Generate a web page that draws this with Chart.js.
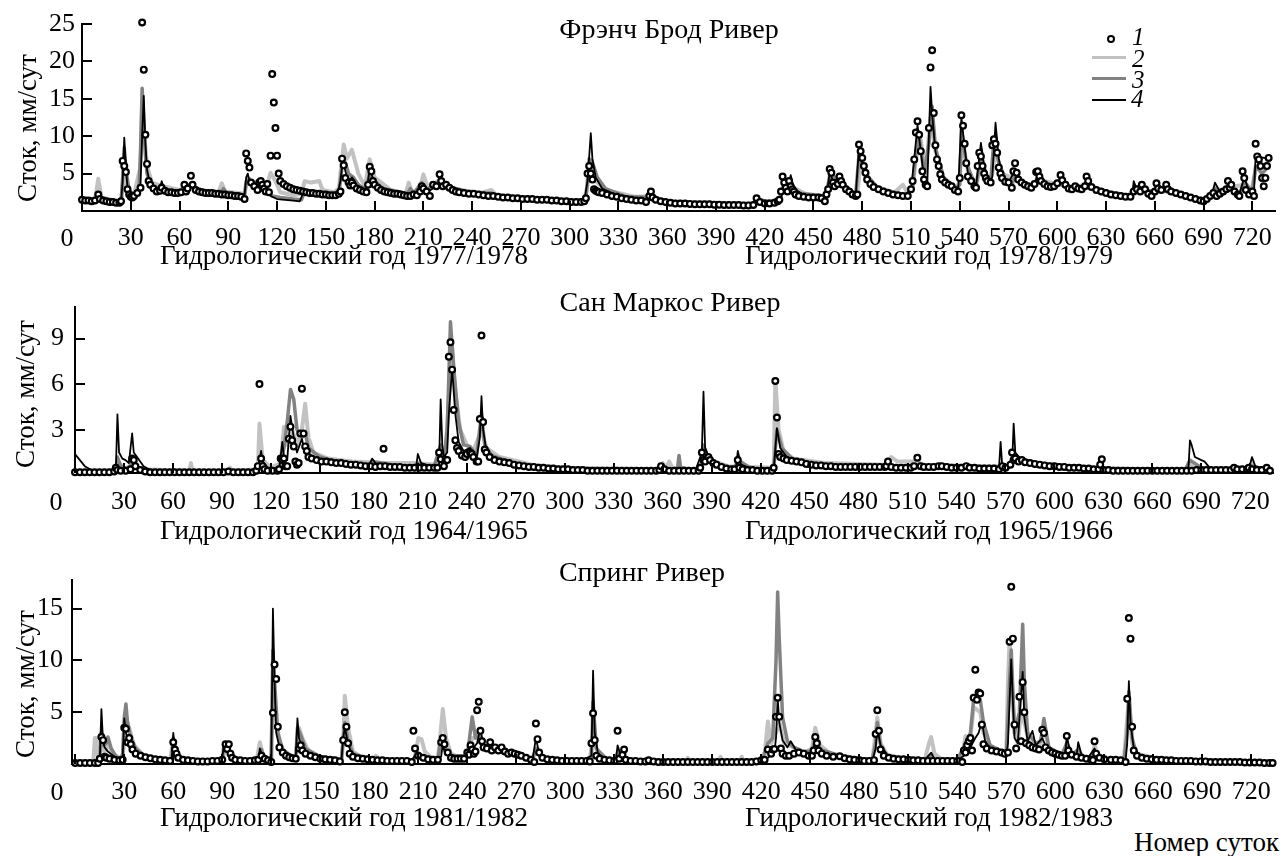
<!DOCTYPE html>
<html lang="ru">
<head>
<meta charset="utf-8">
<title>Сток, мм/сут</title>
<script src="https://cdn.jsdelivr.net/npm/chart.js@4.4.1/dist/chart.umd.min.js"></script>
<style>
  html, body { margin: 0; padding: 0; background: #fff; }
  #page { position: relative; width: 1284px; height: 856px; overflow: hidden; }
  canvas { position: absolute; left: 0; }
  .t {
    position: absolute;
    font-family: "Liberation Serif", "DejaVu Serif", serif;
    font-size: 27px;
    line-height: 1;
    white-space: nowrap;
    color: #000;
  }
  .big { font-size: 28px; }
  .tick { font-size: 26px; }
  .c { transform: translate(-50%, -50%); }
  .l { transform: translateY(-50%); }
  .r { transform: translate(-100%, -50%); }
  .v { transform: translate(-50%, -50%) rotate(-90deg); }
  .i { font-style: italic; font-size: 25px; }
  .sw { position: absolute; height: 0; }
</style>
</head>
<body>
<div id="page">
  <canvas id="frenchChart" width="1284" height="255" style="top:0"></canvas>
  <canvas id="sanMarcosChart" width="1284" height="240" style="top:280px"></canvas>
  <canvas id="springChart" width="1284" height="255" style="top:555px"></canvas>

  <div class="t c big" style="left:669px;top:29px">Фрэнч Брод Ривер</div>
  <div class="t c big" style="left:670px;top:302px">Сан Маркос Ривер</div>
  <div class="t c big" style="left:642px;top:572px">Спринг Ривер</div>

  <div class="t v" style="left:27px;top:128px">Сток, мм/сут</div>
  <div class="t v" style="left:25px;top:394px">Сток, мм/сут</div>
  <div class="t v" style="left:25px;top:684px">Сток, мм/сут</div>

  <div class="t c tick" style="left:67px;top:238px">0</div>
  <div class="t c tick" style="left:56px;top:502px">0</div>
  <div class="t c tick" style="left:57px;top:792px">0</div>

  <div class="t l" style="left:160px;top:255px">Гидрологический год 1977/1978</div>
  <div class="t l" style="left:745px;top:255px">Гидрологический год 1978/1979</div>
  <div class="t l" style="left:160px;top:530px">Гидрологический год 1964/1965</div>
  <div class="t l" style="left:745px;top:530px">Гидрологический год 1965/1966</div>
  <div class="t l" style="left:160px;top:817px">Гидрологический год 1981/1982</div>
  <div class="t l" style="left:745px;top:817px">Гидрологический год 1982/1983</div>
  <div class="t r" style="left:1279px;top:842px">Номер суток</div>

  <!-- legend -->
  <div style="position:absolute;left:1107px;top:35px;width:4px;height:4px;border:2px solid #000;border-radius:50%;background:#fff"></div>
  <div class="sw" style="left:1092px;top:56px;width:34px;border-top:3.5px solid #c2c2c2"></div>
  <div class="sw" style="left:1092px;top:77px;width:34px;border-top:3.5px solid #828282"></div>
  <div class="sw" style="left:1092px;top:99px;width:34px;border-top:2px solid #000"></div>
  <div class="t l i" style="left:1132px;top:36px">1</div>
  <div class="t l i" style="left:1132px;top:58px">2</div>
  <div class="t l i" style="left:1132px;top:79px">3</div>
  <div class="t l i" style="left:1131px;top:98px">4</div>
</div>
<script>
// day numbers along the bottom of every panel
const dayTicks = [0, 30, 60, 90, 120, 150, 180, 210, 240, 270, 300, 330, 360,
  390, 420, 450, 480, 510, 540, 570, 600, 630, 660, 690, 720];

const frenchTicks = [5, 10, 15, 20, 25];
const sanMarcosTicks = [3, 6, 9];
const springTicks = [5, 10, 15];

// French Broad River, 1977-1979: [day, runoff mm/day]
const frenchObs = [[0,1.5],[2,1.4],[4,1.4],[6,1.3],[8,1.4],[10,2.2],[11,1.6],[13,1.4],[15,1.3],[17,1.2],[19,1.2],[21,1.1],[23,1.1],[24,1.3],[25,6.7],[26,6.0],[27,5.2],[28,2.9],[29,2.2],[30,1.9],[31,1.8],[32,2.0],[34,2.4],[36,3.1],[37,25.2],[38,18.9],[39,10.2],[40,6.3],[41,4.0],[42,3.5],[44,3.0],[46,2.6],[48,2.7],[49,3.1],[51,2.7],[53,2.5],[55,2.5],[57,2.4],[59,2.4],[61,2.5],[63,3.5],[64,2.6],[65,3.0],[67,4.7],[68,3.5],[70,2.8],[72,2.6],[74,2.5],[76,2.4],[78,2.4],[80,2.4],[82,2.3],[84,2.3],[86,2.2],[88,2.2],[90,2.1],[92,2.1],[94,2.0],[96,2.0],[98,1.9],[100,1.6],[101,7.7],[102,6.7],[103,5.8],[104,3.8],[106,3.3],[108,2.8],[109,3.8],[110,4.0],[111,3.5],[112,3.0],[113,2.6],[114,3.6],[115,2.5],[116,7.4],[117,18.3],[118,14.5],[119,11.1],[120,7.4],[121,5.0],[122,4.0],[124,3.6],[126,3.3],[128,3.1],[130,2.9],[132,2.8],[134,2.7],[136,2.6],[138,2.5],[140,2.4],[142,2.4],[144,2.3],[146,2.3],[148,2.2],[150,2.2],[152,2.1],[154,2.1],[156,2.1],[158,2.3],[159,2.6],[160,7.0],[161,6.1],[162,4.4],[164,3.8],[165,3.4],[166,3.8],[167,3.4],[169,3.0],[171,2.8],[173,2.6],[175,2.5],[176,3.5],[177,5.9],[178,5.3],[179,4.0],[180,3.5],[182,3.1],[184,2.8],[186,2.6],[188,2.5],[190,2.4],[192,2.3],[194,2.3],[196,2.2],[198,2.1],[200,2.0],[202,2.0],[204,2.2],[206,2.1],[208,2.6],[209,3.3],[210,3.0],[212,2.6],[214,2.0],[216,3.5],[218,3.3],[220,4.9],[221,4.0],[222,3.3],[224,3.5],[226,3.1],[228,2.8],[230,2.6],[232,2.5],[235,2.4],[238,2.3],[241,2.3],[244,2.2],[247,2.1],[250,2.0],[253,2.0],[256,1.9],[259,1.8],[262,1.8],[265,1.7],[268,1.7],[271,1.6],[274,1.6],[277,1.6],[280,1.5],[283,1.5],[286,1.5],[289,1.4],[292,1.4],[295,1.3],[298,1.3],[301,1.2],[304,1.2],[307,1.2],[309,1.3],[310,1.7],[311,5.0],[312,6.0],[313,5.0],[314,4.2],[315,2.9],[316,2.7],[317,2.6],[318,2.5],[320,2.4],[323,2.2],[326,2.0],[329,1.9],[332,1.7],[335,1.6],[338,1.5],[341,1.4],[344,1.4],[347,1.2],[349,2.0],[350,2.6],[351,1.8],[353,1.5],[356,1.3],[359,1.2],[362,1.1],[365,1.0],[368,1.0],[371,1.0],[374,0.95],[377,0.9],[380,0.9],[383,0.9],[386,0.9],[389,0.85],[392,0.85],[395,0.8],[398,0.8],[401,0.8],[404,0.8],[407,0.75],[410,0.75],[413,0.8],[415,1.7],[417,1.2],[420,1.0],[423,1.0],[426,1.1],[428,1.3],[429,1.5],[430,2.6],[431,4.6],[432,3.8],[433,3.1],[434,2.6],[435,4.0],[436,3.3],[437,2.9],[438,2.6],[439,2.2],[441,2.0],[444,1.9],[447,1.8],[450,1.8],[453,1.8],[455,1.7],[457,1.3],[458,2.2],[459,2.9],[460,5.6],[461,5.1],[462,3.8],[463,3.3],[465,3.6],[466,4.6],[467,4.0],[468,3.5],[470,2.9],[472,2.6],[474,2.2],[476,2.0],[477,2.2],[478,8.9],[479,8.0],[480,7.1],[481,6.0],[482,5.1],[483,4.2],[485,3.6],[487,3.2],[490,2.9],[493,2.6],[496,2.4],[499,2.2],[502,2.1],[505,2.0],[508,2.0],[510,2.9],[511,4.0],[512,6.9],[513,10.5],[514,12.0],[515,10.2],[516,8.0],[517,5.3],[518,4.2],[519,3.5],[520,3.3],[521,11.1],[522,19.2],[523,21.5],[524,13.1],[525,8.8],[526,6.9],[527,6.0],[528,4.9],[529,4.2],[531,3.8],[533,3.5],[535,3.3],[537,2.8],[539,2.6],[540,4.4],[541,12.8],[542,11.4],[543,9.0],[544,6.4],[545,4.6],[547,4.0],[549,3.3],[550,3.1],[551,6.0],[552,7.8],[553,7.3],[554,6.0],[555,5.0],[556,4.4],[557,4.0],[559,3.8],[560,8.8],[561,9.6],[562,9.0],[563,7.8],[564,5.8],[565,5.0],[566,4.4],[568,3.9],[570,3.8],[572,3.1],[573,5.3],[574,6.4],[575,5.1],[576,4.2],[578,3.8],[580,3.5],[582,3.3],[584,3.1],[586,3.6],[587,5.2],[588,5.3],[589,4.6],[590,4.0],[592,3.6],[594,3.3],[596,3.2],[598,3.3],[600,3.7],[602,4.8],[603,4.1],[605,3.5],[607,3.0],[609,2.9],[611,3.3],[613,3.0],[615,2.9],[617,3.3],[618,4.6],[619,4.0],[621,3.2],[624,2.8],[627,2.6],[630,2.4],[633,2.2],[636,2.1],[639,2.0],[642,1.9],[645,1.9],[647,2.6],[649,2.9],[651,2.6],[652,3.5],[654,2.9],[656,2.3],[658,2.0],[660,2.6],[661,3.7],[662,3.0],[664,2.8],[667,3.5],[668,2.9],[670,2.6],[673,2.4],[676,2.2],[679,2.0],[682,1.8],[685,1.6],[688,1.4],[690,1.3],[692,1.6],[694,2.0],[696,2.4],[698,2.0],[700,2.3],[702,2.6],[704,2.9],[705,4.0],[706,3.1],[707,3.5],[709,2.6],[711,2.2],[712,2.0],[714,5.3],[715,4.4],[716,2.8],[718,2.2],[720,2.6],[721,2.0],[722,9.0],[723,7.3],[724,6.9],[725,6.0],[726,4.4],[727,3.3],[728,4.4],[729,6.0],[730,7.1]];

const frenchSim2 = [[0,1.6],[8,1.5],[10,4.3],[12,1.8],[24,1.2],[26,5.0],[28,3.0],[32,2.1],[36,6.0],[37,14.0],[38,11.0],[40,6.0],[43,3.8],[50,3.3],[60,2.8],[66,3.5],[72,2.8],[84,2.5],[86,3.7],[88,2.6],[100,2.3],[102,4.5],[105,3.2],[110,3.0],[113,2.8],[116,5.1],[119,4.0],[122,2.5],[130,2.1],[135,2.3],[137,4.0],[141,3.8],[146,4.0],[148,2.8],[155,2.5],[158,3.0],[161,8.9],[163,7.0],[166,8.2],[170,5.0],[174,3.3],[177,6.9],[180,4.5],[190,2.8],[199,2.3],[201,3.8],[203,2.5],[208,3.0],[210,4.9],[213,3.0],[220,4.2],[228,3.0],[245,2.4],[252,2.8],[255,2.1],[280,1.7],[300,1.4],[309,1.4],[311,3.5],[313,6.0],[316,4.0],[322,2.8],[340,1.9],[350,2.0],[360,1.3],[400,1.0],[413,1.0],[415,1.5],[420,1.3],[429,1.4],[432,3.6],[437,3.2],[445,2.3],[457,2.0],[460,4.2],[467,3.9],[473,2.6],[477,2.3],[479,6.5],[485,3.5],[500,2.5],[505,3.5],[508,2.4],[511,3.0],[513,7.0],[516,9.5],[519,5.0],[522,12.5],[525,8.0],[530,4.5],[538,3.0],[540,4.0],[541,9.0],[545,5.5],[550,3.5],[553,6.0],[558,4.0],[560,5.0],[562,8.0],[566,5.0],[575,4.2],[583,3.3],[588,4.2],[600,3.6],[610,3.1],[618,3.6],[630,2.6],[644,2.1],[647,3.0],[655,2.4],[662,2.8],[680,2.0],[690,1.6],[694,2.0],[697,3.2],[702,2.5],[707,3.2],[715,3.5],[719,2.4],[722,5.5],[730,6.5]];

const frenchSim3 = [[0,1.5],[9,1.3],[10,2.2],[12,1.4],[24,1.1],[25,4.5],[26,8.5],[27,5.5],[29,2.8],[32,2.0],[35,2.4],[36,8.0],[37,16.4],[38,12.0],[39,7.5],[40,5.0],[42,3.6],[46,2.9],[49,3.6],[52,2.7],[60,2.6],[64,3.1],[67,3.6],[72,2.7],[85,2.3],[87,3.0],[89,2.3],[100,2.1],[101,4.0],[103,4.3],[106,3.2],[110,3.6],[113,3.0],[117,2.0],[122,1.8],[130,1.6],[135,1.5],[137,2.6],[145,2.4],[158,2.2],[160,6.0],[162,6.5],[164,5.0],[167,4.5],[170,3.5],[175,2.8],[177,5.2],[179,4.2],[185,3.0],[200,2.3],[202,3.0],[204,2.3],[209,3.8],[212,2.8],[220,4.0],[226,3.2],[240,2.4],[252,2.4],[254,2.0],[280,1.6],[300,1.3],[310,1.5],[312,7.0],[314,6.5],[317,4.5],[322,3.0],[335,1.9],[350,1.8],[360,1.2],[400,0.9],[414,0.9],[416,1.5],[425,1.2],[429,1.4],[432,3.8],[435,3.8],[440,2.4],[455,2.0],[458,2.0],[460,4.8],[466,4.3],[472,2.8],[476,2.3],[478,7.5],[482,5.0],[490,3.0],[500,2.3],[508,2.1],[511,3.5],[513,8.0],[515,10.0],[518,5.0],[521,9.0],[523,14.0],[525,8.5],[530,4.5],[537,2.9],[540,3.5],[541,11.0],[544,6.5],[548,4.2],[550,3.3],[553,7.5],[556,5.0],[559,3.9],[561,9.5],[564,6.5],[568,4.2],[572,3.3],[574,5.0],[580,3.6],[585,3.2],[588,4.5],[594,3.3],[599,3.2],[602,3.9],[610,3.0],[616,3.0],[618,3.9],[625,2.7],[645,2.0],[648,3.3],[653,3.0],[660,2.5],[662,3.0],[668,2.8],[690,1.4],[694,1.9],[697,3.0],[702,2.4],[706,3.2],[712,2.2],[715,4.0],[720,2.5],[722,6.0],[726,5.0],[730,6.0]];

const frenchSim4 = [[0,1.4],[9,1.3],[10,2.4],[11,1.4],[24,1.1],[25,4.0],[26,9.8],[27,6.0],[28,3.0],[30,2.2],[33,1.9],[35,2.3],[36,3.5],[37,10.0],[38,15.4],[39,9.0],[40,5.5],[42,3.5],[45,2.8],[48,2.6],[49,4.0],[50,3.2],[53,2.6],[60,2.5],[64,3.0],[67,3.4],[70,2.8],[80,2.4],[90,2.2],[100,2.1],[101,4.5],[102,5.0],[103,4.0],[105,3.3],[110,3.5],[112,3.3],[113,3.0],[116,2.0],[120,1.6],[130,1.4],[134,1.3],[136,2.4],[140,2.4],[150,2.2],[157,2.1],[159,4.0],[160,6.0],[161,6.2],[163,4.5],[165,4.2],[166,4.5],[168,3.8],[170,3.0],[175,2.6],[177,5.6],[178,5.0],[180,3.6],[185,2.8],[195,2.3],[205,2.1],[209,3.0],[212,2.5],[216,3.0],[220,3.8],[225,3.2],[240,2.3],[260,1.8],[280,1.5],[300,1.2],[309,1.3],[311,4.0],[313,10.4],[314,7.0],[316,4.5],[320,3.0],[330,2.0],[345,1.4],[350,2.0],[355,1.3],[370,1.0],[390,0.9],[410,0.8],[415,1.4],[420,1.0],[430,1.5],[432,4.3],[434,3.0],[436,4.8],[438,3.0],[445,2.0],[455,1.8],[458,2.0],[460,5.2],[462,4.0],[466,4.4],[470,3.0],[476,2.1],[478,8.5],[480,6.5],[483,4.0],[490,2.9],[505,2.0],[510,2.8],[512,7.0],[514,11.5],[516,8.0],[518,4.5],[520,3.5],[522,16.6],[523,13.0],[525,8.0],[528,5.0],[532,3.8],[539,2.7],[541,12.5],[543,8.5],[545,5.0],[550,3.3],[553,9.1],[555,6.0],[558,4.0],[560,4.5],[562,11.8],[564,7.0],[566,4.8],[570,3.8],[574,5.5],[578,4.0],[585,3.2],[588,4.8],[592,3.6],[599,3.3],[602,4.0],[610,3.0],[616,3.1],[618,4.2],[625,2.7],[640,2.0],[646,1.9],[647,4.0],[649,2.8],[653,3.2],[658,2.2],[662,3.3],[667,3.0],[680,1.9],[690,1.3],[695,2.0],[697,3.8],[700,2.6],[704,2.8],[706,3.5],[712,2.2],[715,4.5],[718,2.6],[721,2.5],[722,7.3],[730,7.0]];

// San Marcos River, 1964-1966
const sanMarcosObs = [[0,0.2],[3,0.2],[6,0.2],[9,0.2],[12,0.2],[15,0.2],[18,0.2],[21,0.2],[24,0.25],[25,0.5],[26,0.35],[28,0.3],[31,0.3],[34,0.4],[35,1.1],[36,1.0],[37,0.6],[40,0.35],[43,0.25],[46,0.2],[49,0.2],[52,0.2],[55,0.2],[58,0.2],[61,0.2],[64,0.2],[67,0.2],[70,0.2],[73,0.2],[76,0.2],[79,0.2],[82,0.2],[85,0.2],[88,0.2],[91,0.2],[94,0.25],[97,0.2],[100,0.2],[103,0.2],[106,0.2],[109,0.2],[111,0.3],[112,0.6],[113,6.0],[114,1.1],[115,0.6],[116,0.4],[118,0.3],[121,0.3],[124,0.3],[125,0.4],[126,1.1],[127,1.0],[128,1.1],[129,0.6],[130,0.6],[131,2.4],[132,3.2],[133,2.3],[134,1.9],[135,0.9],[136,0.7],[137,0.8],[138,2.75],[139,5.7],[140,2.75],[141,1.9],[142,1.6],[143,1.2],[145,1.1],[148,1.0],[151,0.9],[154,0.9],[157,0.85],[160,0.8],[163,0.8],[166,0.75],[169,0.7],[172,0.7],[175,0.65],[178,0.6],[181,0.6],[184,0.55],[187,0.6],[189,1.75],[190,0.6],[193,0.55],[196,0.55],[199,0.55],[202,0.5],[205,0.5],[208,0.5],[211,0.5],[214,0.5],[217,0.5],[220,0.5],[222,0.5],[223,1.5],[224,1.05],[226,0.6],[227,1.0],[228,1.0],[229,7.8],[230,8.75],[231,6.95],[232,4.3],[233,2.3],[234,1.8],[235,1.6],[237,1.3],[239,1.2],[240,1.4],[242,1.5],[243,1.4],[244,1.2],[246,0.9],[247,0.9],[248,3.7],[249,9.2],[250,3.5],[251,1.7],[252,1.5],[254,1.2],[257,1.0],[260,0.9],[263,0.85],[266,0.8],[269,0.7],[272,0.65],[275,0.6],[278,0.55],[281,0.55],[284,0.5],[287,0.5],[290,0.45],[293,0.45],[296,0.4],[299,0.4],[302,0.4],[305,0.35],[308,0.35],[311,0.35],[314,0.3],[317,0.3],[320,0.3],[323,0.3],[326,0.3],[329,0.3],[332,0.3],[335,0.3],[338,0.3],[341,0.3],[344,0.3],[347,0.3],[350,0.3],[353,0.3],[356,0.3],[358,0.35],[359,0.6],[361,0.4],[364,0.3],[367,0.3],[370,0.3],[373,0.3],[376,0.3],[379,0.3],[382,0.3],[383,0.5],[384,1.5],[385,1.0],[386,0.9],[388,1.2],[389,1.0],[391,0.8],[393,0.7],[396,0.55],[399,0.45],[402,0.4],[404,0.4],[406,1.0],[407,0.5],[409,0.4],[412,0.35],[415,0.35],[418,0.3],[421,0.3],[424,0.3],[427,0.3],[428,0.5],[429,6.2],[430,3.8],[431,1.4],[432,1.2],[434,1.1],[436,1.0],[439,0.95],[442,0.9],[445,0.85],[448,0.75],[451,0.7],[454,0.65],[457,0.65],[460,0.6],[463,0.6],[466,0.55],[469,0.55],[472,0.55],[475,0.55],[478,0.55],[481,0.55],[484,0.55],[487,0.55],[490,0.55],[493,0.55],[496,0.55],[497,0.6],[498,0.9],[500,0.55],[503,0.5],[506,0.5],[509,0.5],[512,0.5],[514,0.6],[516,1.15],[518,0.6],[520,0.55],[523,0.55],[526,0.55],[529,0.6],[531,0.6],[534,0.55],[537,0.5],[540,0.5],[543,0.5],[546,0.6],[548,0.5],[551,0.5],[554,0.45],[557,0.45],[560,0.45],[563,0.45],[566,0.4],[568,0.6],[570,0.5],[573,0.7],[574,1.5],[575,1.0],[576,1.1],[578,0.9],[580,1.0],[582,0.85],[585,0.8],[588,0.75],[591,0.7],[594,0.65],[597,0.6],[600,0.6],[603,0.55],[606,0.55],[609,0.5],[612,0.5],[615,0.5],[618,0.45],[621,0.45],[624,0.4],[627,0.4],[628,0.7],[629,1.05],[630,0.35],[633,0.35],[636,0.3],[639,0.3],[642,0.3],[645,0.3],[648,0.3],[651,0.3],[654,0.3],[657,0.3],[660,0.3],[663,0.3],[666,0.3],[669,0.3],[672,0.3],[675,0.3],[678,0.3],[681,0.3],[684,0.3],[687,0.35],[690,0.35],[693,0.35],[696,0.35],[699,0.35],[702,0.35],[705,0.35],[708,0.35],[710,0.5],[712,0.4],[715,0.4],[718,0.4],[719,0.5],[721,0.4],[724,0.35],[727,0.35],[730,0.5],[732,0.3]];

const sanMarcosSim2 = [[0,0.3],[25,0.3],[27,0.8],[30,0.4],[35,0.7],[40,0.4],[70,0.3],[71,0.8],[72,0.3],[94,0.3],[95,0.5],[96,0.3],[112,0.4],[113,3.4],[115,1.0],[120,0.5],[126,0.8],[128,3.2],[130,2.0],[133,3.0],[136,2.0],[139,3.0],[141,4.7],[143,2.5],[146,1.5],[155,1.1],[170,0.9],[190,0.8],[210,0.8],[222,0.7],[224,1.6],[227,1.5],[229,5.0],[231,8.5],[233,5.5],[236,3.0],[240,2.0],[244,1.6],[249,3.0],[252,1.8],[260,1.2],[280,0.7],[300,0.5],[358,0.4],[360,0.8],[362,0.5],[364,0.9],[366,0.5],[380,0.4],[383,0.4],[385,1.3],[390,1.0],[400,0.6],[428,0.5],[429,6.3],[431,3.0],[434,1.6],[440,1.1],[460,0.8],[497,0.7],[500,1.2],[504,0.9],[515,0.9],[520,0.7],[560,0.6],[572,0.6],[575,1.2],[590,0.8],[620,0.5],[650,0.35],[680,0.35],[683,0.8],[686,0.4],[719,0.4],[721,0.8],[723,0.4],[733,0.35]];

const sanMarcosSim3 = [[0,0.3],[25,0.25],[26,1.2],[28,0.6],[33,0.4],[35,0.9],[38,0.5],[50,0.25],[112,0.3],[114,1.2],[116,0.5],[125,0.4],[128,1.8],[130,3.5],[132,5.65],[134,5.0],[136,3.0],[139,2.5],[141,2.8],[143,1.8],[150,1.2],[160,0.9],[180,0.7],[182,0.9],[200,0.6],[208,0.6],[210,0.8],[212,0.6],[220,0.6],[224,2.0],[226,1.0],[228,3.0],[230,10.1],[232,7.0],[235,3.5],[238,2.0],[242,1.9],[246,1.3],[249,4.0],[251,2.0],[255,1.3],[270,0.75],[300,0.45],[340,0.35],[364,0.4],[369,0.4],[370,1.3],[371,0.5],[380,0.35],[383,0.35],[385,2.0],[388,1.0],[400,0.5],[404,0.45],[406,1.0],[415,0.4],[428,0.4],[430,3.0],[433,1.8],[440,1.0],[460,0.7],[500,0.6],[560,0.5],[572,0.5],[575,1.5],[580,0.9],[620,0.5],[680,0.35],[683,1.0],[690,0.5],[700,0.35],[719,0.35],[721,0.6],[733,0.3]];

const sanMarcosSim4 = [[0,1.4],[3,1.0],[6,0.6],[10,0.35],[14,0.25],[25,0.25],[26,4.0],[27,1.5],[29,1.1],[31,1.0],[33,0.8],[35,2.75],[36,1.5],[38,1.2],[42,0.6],[46,0.35],[50,0.25],[112,0.3],[114,1.6],[115,0.9],[118,0.5],[122,0.3],[125,0.35],[127,2.2],[128,1.2],[130,1.0],[132,3.9],[134,2.5],[136,1.5],[139,2.4],[140,1.9],[143,1.3],[150,1.0],[160,0.85],[170,0.75],[180,0.65],[182,1.1],[184,0.8],[190,0.7],[200,0.6],[209,0.55],[210,1.4],[212,0.8],[220,0.55],[223,0.6],[224,5.0],[225,2.0],[226,1.2],[228,1.5],[229,4.0],[231,7.0],[233,4.0],[235,2.2],[238,1.6],[242,1.8],[246,1.1],[248,2.5],[249,5.2],[250,3.0],[252,1.6],[256,1.1],[270,0.7],[300,0.45],[340,0.35],[380,0.3],[384,1.5],[385,5.5],[386,1.8],[388,1.3],[392,0.8],[400,0.5],[405,0.5],[406,1.6],[408,0.7],[415,0.4],[428,0.35],[430,3.1],[432,1.8],[436,1.2],[445,0.9],[460,0.65],[500,0.55],[530,0.5],[566,0.45],[567,2.2],[568,0.6],[570,0.5],[574,0.6],[575,3.4],[576,1.5],[580,1.0],[590,0.7],[610,0.5],[630,0.4],[660,0.35],[682,0.35],[683,2.3],[684,2.0],[686,1.2],[690,1.0],[692,0.9],[695,0.5],[700,0.4],[719,0.4],[721,1.2],[723,0.6],[733,0.3]];

// Spring River, 1981-1983
const springObs = [[0,0.1],[3,0.1],[6,0.1],[9,0.1],[12,0.1],[14,0.1],[15,0.5],[16,2.6],[17,2.3],[18,0.7],[19,0.6],[21,0.5],[24,0.4],[27,0.35],[29,0.4],[30,3.5],[31,3.4],[32,2.1],[33,2.5],[34,1.9],[35,1.4],[37,1.0],[40,0.8],[43,0.65],[46,0.55],[49,0.45],[52,0.4],[55,0.35],[58,0.3],[60,2.1],[61,1.4],[62,1.0],[63,0.6],[66,0.4],[69,0.35],[72,0.3],[75,0.25],[78,0.25],[81,0.25],[84,0.3],[87,0.3],[90,0.4],[92,1.9],[93,1.45],[94,1.9],[95,1.0],[96,0.6],[98,0.4],[101,0.35],[104,0.3],[107,0.3],[110,0.35],[112,0.4],[114,0.8],[116,0.5],[118,0.35],[120,0.2],[121,4.95],[122,9.6],[123,8.2],[124,3.6],[125,1.6],[127,1.1],[129,0.8],[131,0.65],[133,0.55],[135,0.5],[137,1.5],[138,1.8],[139,1.3],[141,1.0],[144,0.8],[147,0.65],[150,0.5],[153,0.45],[156,0.4],[159,0.35],[162,0.25],[164,2.3],[165,5.0],[166,3.6],[167,2.0],[168,1.0],[170,0.7],[173,0.55],[176,0.5],[179,0.45],[182,0.4],[185,0.35],[188,0.35],[191,0.3],[194,0.3],[197,0.3],[200,0.3],[203,0.3],[206,0.2],[207,3.2],[208,1.5],[210,0.8],[213,0.6],[216,0.45],[219,0.4],[222,0.4],[224,2.1],[225,2.5],[226,1.9],[228,1.1],[230,0.6],[232,0.5],[234,0.5],[236,0.5],[238,0.5],[240,1.1],[241,0.9],[242,1.8],[243,1.4],[244,1.0],[245,1.2],[246,5.2],[247,6.0],[248,3.2],[249,2.2],[250,1.6],[252,1.5],[254,2.1],[255,1.3],[257,1.6],[259,1.3],[261,1.6],[263,1.2],[265,1.0],[267,1.1],[269,1.0],[271,0.9],[273,0.8],[276,0.6],[279,0.4],[281,0.2],[282,3.9],[283,2.4],[284,1.1],[286,0.6],[289,0.45],[292,0.4],[295,0.35],[298,0.3],[301,0.3],[304,0.3],[307,0.3],[310,0.3],[313,0.3],[315,0.25],[316,2.0],[317,4.9],[318,2.3],[319,0.8],[321,0.5],[324,0.4],[327,0.35],[330,0.3],[332,3.2],[333,0.5],[335,0.9],[336,1.4],[337,0.4],[340,0.3],[343,0.3],[346,0.25],[349,0.25],[351,0.35],[354,0.25],[357,0.2],[360,0.2],[363,0.2],[366,0.2],[369,0.2],[372,0.2],[375,0.2],[378,0.2],[381,0.2],[384,0.2],[387,0.2],[390,0.2],[393,0.2],[396,0.2],[399,0.2],[402,0.2],[405,0.2],[408,0.2],[411,0.2],[414,0.2],[417,0.25],[420,0.35],[422,0.4],[424,1.4],[426,1.0],[427,1.4],[428,1.45],[429,4.55],[430,6.4],[431,4.55],[432,1.5],[433,1.0],[435,0.8],[437,0.8],[440,1.0],[443,1.1],[446,1.0],[449,0.8],[451,0.8],[452,1.3],[453,2.6],[454,2.0],[455,1.3],[457,1.0],[460,0.8],[464,0.7],[468,0.75],[471,0.55],[474,0.45],[477,0.4],[480,0.35],[483,0.3],[486,0.3],[489,0.37],[490,2.9],[491,5.2],[492,3.2],[493,1.4],[495,0.8],[498,0.6],[501,0.5],[504,0.45],[507,0.45],[510,0.4],[513,0.35],[516,0.35],[519,0.3],[522,0.3],[525,0.3],[528,0.3],[531,0.3],[534,0.3],[537,0.3],[540,0.3],[543,0.2],[544,1.3],[545,1.1],[546,1.8],[547,2.2],[548,2.5],[549,1.3],[550,6.4],[551,9.1],[552,6.2],[553,6.9],[554,6.8],[555,3.8],[556,1.9],[558,1.5],[561,1.3],[564,1.2],[567,1.1],[569,1.0],[571,1.1],[572,11.8],[573,17.1],[574,12.1],[575,3.8],[576,1.5],[578,6.5],[579,2.2],[580,7.9],[581,5.0],[582,2.0],[584,1.8],[586,1.6],[588,1.5],[590,1.4],[592,3.3],[593,3.0],[594,1.6],[596,1.3],[598,1.1],[600,1.0],[602,0.9],[604,0.8],[606,0.8],[607,2.7],[608,1.3],[610,0.9],[613,0.7],[616,0.6],[619,0.5],[622,0.4],[623,0.37],[624,2.2],[625,1.0],[627,0.6],[630,0.45],[634,0.4],[637,0.4],[640,0.35],[643,0.2],[644,6.3],[645,14.1],[646,12.1],[647,3.6],[648,1.3],[650,0.8],[653,0.6],[656,0.5],[659,0.45],[662,0.4],[665,0.4],[668,0.35],[671,0.35],[674,0.3],[677,0.3],[680,0.3],[683,0.3],[686,0.25],[689,0.25],[692,0.25],[695,0.2],[698,0.2],[701,0.2],[704,0.2],[707,0.2],[710,0.2],[713,0.2],[716,0.15],[719,0.15],[722,0.15],[725,0.15],[728,0.1],[731,0.1],[733,0.1]];

const springSim2 = [[0,0.1],[11,0.1],[12,2.5],[13,2.5],[14,0.5],[15,0.6],[16,3.0],[17,1.5],[18,1.2],[20,2.0],[23,1.0],[27,0.6],[29,0.6],[30,2.5],[31,4.5],[33,3.5],[36,1.8],[42,0.8],[50,0.45],[58,0.35],[60,2.2],[62,1.0],[66,0.4],[90,0.35],[92,1.6],[95,1.2],[98,0.4],[111,0.35],[113,2.1],[115,0.8],[118,0.35],[120,0.4],[121,9.0],[123,4.0],[126,1.5],[130,0.7],[135,0.6],[136,2.0],[137,3.5],[139,2.5],[143,1.2],[150,0.6],[163,0.4],[164,2.0],[165,6.6],[167,3.5],[170,1.2],[176,0.6],[183,0.45],[184,0.8],[186,0.45],[206,0.35],[208,0.6],[210,2.5],[212,2.4],[214,1.2],[218,0.6],[222,0.6],[223,2.0],[225,5.3],[227,2.5],[230,1.0],[236,0.6],[240,0.8],[243,2.5],[247,2.5],[250,1.5],[260,1.2],[270,0.9],[280,0.5],[283,1.5],[286,0.6],[290,0.45],[315,0.35],[317,3.0],[320,0.8],[325,0.4],[331,0.4],[333,1.0],[336,0.5],[340,0.35],[374,0.25],[375,0.6],[376,0.25],[394,0.25],[395,0.7],[396,0.25],[407,0.25],[408,0.7],[409,0.25],[420,0.3],[422,0.8],[424,4.1],[426,2.0],[429,3.0],[431,4.0],[434,2.0],[440,1.6],[446,1.1],[451,1.5],[453,3.5],[456,1.8],[462,1.0],[470,0.8],[480,0.5],[488,0.4],[490,3.0],[491,4.5],[493,2.0],[497,0.9],[505,0.6],[520,0.4],[523,2.2],[524,2.6],[526,1.0],[530,0.5],[540,0.4],[543,0.8],[545,2.7],[548,2.5],[550,5.5],[554,5.0],[556,3.0],[560,1.8],[565,1.3],[570,1.2],[571,8.0],[572,12.0],[573,9.0],[575,3.0],[577,2.0],[579,5.0],[581,4.0],[584,2.0],[588,1.6],[591,2.0],[593,3.5],[596,1.6],[602,1.0],[606,0.9],[607,2.0],[610,1.0],[615,0.8],[622,0.5],[624,1.8],[626,0.8],[632,0.45],[642,0.4],[644,4.5],[645,6.0],[647,2.0],[650,1.0],[660,0.6],[670,0.45],[700,0.3],[733,0.15]];

const springSim3 = [[0,0.05],[14,0.05],[15,0.5],[16,3.0],[17,1.8],[19,2.0],[20,2.6],[22,1.5],[25,0.7],[28,0.5],[29,1.0],[30,4.5],[31,5.8],[32,4.0],[34,2.5],[37,1.5],[42,0.8],[50,0.4],[59,0.35],[60,2.5],[62,1.0],[66,0.45],[90,0.35],[91,1.9],[94,1.4],[97,0.6],[100,0.4],[112,0.35],[114,1.4],[116,0.5],[120,0.4],[121,11.0],[122,8.0],[124,3.0],[127,1.4],[132,0.8],[135,0.7],[136,3.5],[138,2.8],[141,1.5],[150,0.7],[163,0.45],[164,2.5],[165,4.0],[167,2.2],[170,1.0],[180,0.5],[207,0.35],[209,1.2],[212,0.8],[222,0.5],[224,2.5],[226,1.5],[230,0.8],[240,0.8],[243,4.55],[245,2.5],[247,3.0],[250,1.6],[255,1.6],[270,0.9],[280,0.5],[282,1.5],[285,0.6],[310,0.35],[316,0.5],[317,6.0],[319,1.5],[325,0.5],[331,0.4],[332,1.2],[335,0.6],[340,0.35],[360,0.3],[420,0.2],[424,2.0],[427,2.5],[429,10.0],[430,16.6],[431,12.0],[433,4.5],[436,2.2],[440,1.6],[446,1.2],[451,1.2],[453,2.5],[456,1.4],[470,0.7],[488,0.4],[490,2.0],[491,4.0],[493,1.8],[497,0.8],[505,0.55],[522,0.45],[524,0.8],[526,0.45],[540,0.4],[545,2.0],[548,3.0],[550,6.25],[554,6.25],[556,4.0],[560,1.8],[570,1.0],[572,8.0],[573,11.0],[575,3.0],[578,5.0],[580,13.5],[581,8.0],[583,3.0],[588,2.0],[591,2.2],[593,4.4],[596,1.6],[604,0.9],[607,2.0],[610,0.9],[614,1.4],[617,0.7],[622,0.5],[624,1.3],[627,0.5],[642,0.35],[644,3.0],[645,7.0],[647,2.5],[650,0.8],[670,0.4],[733,0.1]];

const springSim4 = [[0,0.05],[14,0.05],[15,0.3],[16,5.3],[17,2.2],[18,1.6],[20,1.2],[24,0.7],[28,0.5],[29,0.6],[30,4.4],[31,3.0],[33,2.2],[35,1.6],[38,1.1],[42,0.7],[48,0.45],[55,0.35],[59,0.35],[60,3.0],[61,1.5],[63,0.8],[66,0.5],[70,0.35],[85,0.3],[90,0.5],[91,2.1],[93,1.5],[95,1.2],[97,0.6],[100,0.4],[112,0.35],[113,1.5],[115,0.6],[119,0.3],[120,0.4],[121,15.0],[122,8.0],[123,3.0],[125,1.6],[128,1.0],[132,0.7],[135,0.6],[136,4.4],[137,2.5],[139,1.6],[142,1.1],[146,0.8],[152,0.55],[160,0.4],[163,0.4],[164,2.5],[165,3.5],[167,2.0],[169,1.0],[175,0.6],[190,0.4],[206,0.35],[208,0.8],[211,1.0],[214,0.7],[220,0.5],[224,0.7],[225,2.0],[226,1.2],[230,0.7],[240,0.6],[242,1.2],[246,2.0],[248,3.5],[250,1.6],[254,2.1],[256,1.3],[260,1.1],[270,0.8],[280,0.5],[282,2.5],[284,1.0],[290,0.5],[310,0.35],[316,0.8],[317,9.0],[318,3.0],[320,1.0],[325,0.5],[331,0.4],[332,1.8],[334,0.8],[340,0.35],[360,0.25],[420,0.2],[424,0.6],[428,1.2],[429,2.5],[430,6.4],[431,4.0],[433,2.3],[436,1.6],[438,2.2],[441,1.4],[446,1.1],[450,1.0],[452,1.5],[453,2.2],[455,1.6],[460,0.9],[470,0.6],[480,0.4],[488,0.35],[490,1.5],[491,3.5],[493,1.8],[497,0.9],[505,0.55],[520,0.4],[524,1.1],[526,0.5],[540,0.35],[544,0.8],[548,1.6],[551,2.5],[553,3.0],[555,4.1],[557,2.2],[560,1.5],[563,1.2],[565,1.5],[567,1.1],[570,0.9],[571,2.0],[573,10.1],[574,6.0],[575,2.5],[577,2.0],[580,8.9],[581,4.5],[583,2.2],[586,3.2],[588,1.8],[592,2.5],[595,1.4],[600,1.0],[606,0.9],[607,2.7],[609,1.2],[613,0.8],[614,2.1],[616,0.9],[620,0.6],[624,1.5],[626,0.7],[635,0.4],[643,0.35],[644,2.0],[645,8.0],[646,4.0],[648,1.5],[652,0.8],[660,0.5],[680,0.3],[700,0.2],[733,0.1]];

const FONT = "'Liberation Serif', 'DejaVu Serif', serif";
Chart.defaults.font.family = FONT;
Chart.defaults.font.size = 26;
Chart.defaults.color = "#000";

const toXY = (pairs) => pairs.map(([x, y]) => ({ x, y }));

// tick marks point into the plot, as in the printed figure
const inwardTicks = {
  id: "inwardTicks",
  afterDraw(chart) {
    const { ctx, chartArea, scales } = chart;
    ctx.save();
    ctx.strokeStyle = "#000";
    ctx.lineWidth = 2;
    ctx.beginPath();
    scales.x.ticks.forEach((t) => {
      const px = Math.round(scales.x.getPixelForValue(t.value));
      ctx.moveTo(px, chartArea.bottom);
      ctx.lineTo(px, chartArea.bottom - 10);
    });
    scales.y.ticks.forEach((t) => {
      const py = Math.round(scales.y.getPixelForValue(t.value));
      ctx.moveTo(chartArea.left, py);
      ctx.lineTo(chartArea.left + 10, py);
    });
    ctx.stroke();
    ctx.restore();
  },
};

function makePanel(canvasId, p) {
  const canvas = document.getElementById(canvasId);
  return new Chart(canvas, {
    type: "line",
    data: {
      datasets: [
        {
          label: "1",
          data: toXY(p.obs),
          showLine: false,
          pointRadius: 2.9,
          pointBorderWidth: 2.2,
          pointBorderColor: "#000",
          pointBackgroundColor: "#fff",
          clip: 10,
          order: 0,
        },
        {
          label: "4",
          data: toXY(p.sim4),
          borderColor: "#000",
          borderWidth: 1.8,
          pointRadius: 0,
          order: 1,
        },
        {
          label: "3",
          data: toXY(p.sim3),
          borderColor: "#828282",
          borderWidth: 3.5,
          pointRadius: 0,
          order: 2,
        },
        {
          label: "2",
          data: toXY(p.sim2),
          borderColor: "#c2c2c2",
          borderWidth: 4,
          pointRadius: 0,
          order: 3,
        },
      ],
    },
    options: {
      responsive: false,
      animation: false,
      events: [],
      layout: { padding: { top: p.plotTop, right: 7, bottom: 0, left: 0 } },
      elements: { line: { tension: 0, borderJoinStyle: "round", borderCapStyle: "round" } },
      scales: {
        x: {
          type: "linear",
          min: p.xMin,
          max: 734,
          grid: { display: false, drawTicks: false },
          border: { display: true, color: "#000", width: 2 },
          afterBuildTicks: (scale) => {
            scale.ticks = dayTicks.map((v) => ({ value: v }));
          },
          afterFit: (scale) => {
            scale.height = canvas.height - p.plotBottom;
          },
          ticks: {
            autoSkip: false,
            maxRotation: 0,
            minRotation: 0,
            padding: p.xPad,
            callback: (v) => (v === 0 ? "" : String(v)),
          },
        },
        y: {
          min: p.yMin,
          max: p.yMax,
          grid: { display: false, drawTicks: false },
          border: { display: true, color: "#000", width: 2 },
          afterBuildTicks: (scale) => {
            scale.ticks = p.yTicks.map((v) => ({ value: v }));
          },
          afterFit: (scale) => {
            scale.width = p.axisLeft;
          },
          ticks: { padding: p.yPad, callback: (v) => String(v) },
        },
      },
      plugins: { legend: { display: false }, tooltip: { enabled: false } },
    },
    plugins: [inwardTicks],
  });
}

makePanel("frenchChart", {
  obs: frenchObs, sim2: frenchSim2, sim3: frenchSim3, sim4: frenchSim4,
  axisLeft: 82, plotTop: 24, plotBottom: 211, xMin: 0,
  yMin: 0, yMax: 25, yTicks: frenchTicks, xPad: 12, yPad: 7,
});
makePanel("sanMarcosChart", {
  obs: sanMarcosObs, sim2: sanMarcosSim2, sim3: sanMarcosSim3, sim4: sanMarcosSim4,
  axisLeft: 75, plotTop: 18, plotBottom: 193, xMin: 0,
  yMin: 0.15, yMax: 11.1, yTicks: sanMarcosTicks, xPad: 14, yPad: 11,
});
makePanel("springChart", {
  obs: springObs, sim2: springSim2, sim3: springSim3, sim4: springSim4,
  axisLeft: 72, plotTop: 17, plotBottom: 209, xMin: -2,
  yMin: 0, yMax: 17.8, yTicks: springTicks, xPad: 13, yPad: 9,
});
</script>
</body>
</html>
